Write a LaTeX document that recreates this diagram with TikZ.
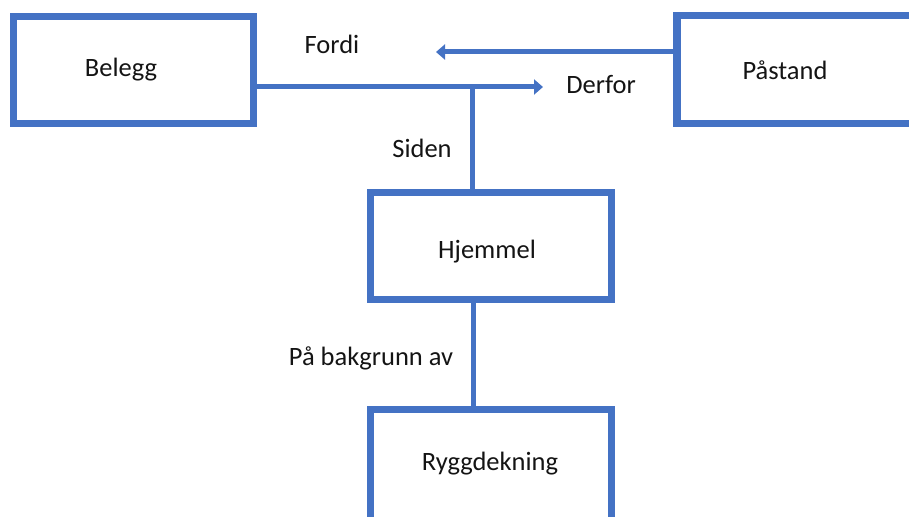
\documentclass[tikz,border=0pt]{standalone}
\usepackage{fontspec}
\setmainfont{Carlito}
\usetikzlibrary{arrows.meta}
\definecolor{officeblue}{HTML}{4472C4}
\tikzset{
  box/.style={draw=officeblue, line width=7.5pt, fill=none, outer sep=0pt, inner sep=0pt},
  lbl/.style={font=\fontsize{26.5}{30}\selectfont, text=black!92, inner sep=0pt},
  conn/.style={draw=officeblue, line width=5pt},
  arr/.style={conn, -{Triangle[length=9pt,width=15pt]}}
}
\begin{document}
\begin{tikzpicture}[x=1pt,y=-1pt]
\useasboundingbox (0,0) rectangle (909,516);
\clip (0,0) rectangle (909,516);
% boxes
\node[box, minimum width=240pt, minimum height=107pt] (belegg) at (133.5,70) {};
\node[box, minimum width=243pt, minimum height=108pt] (pastandbox) at (798.5,69.5) {};
\node[box, minimum width=241pt, minimum height=107pt] (hjemmel) at (491,246) {};
\node[box, minimum width=241pt, minimum height=120pt] (rygg) at (491,469.5) {};
% box labels
\node[lbl] (beleggtxt) at (121,70) {Belegg};
\node[lbl] (pastand) at (785,70) {Påstand};
\node[lbl] (hjemmeltxt) at (487,252) {Hjemmel};
\node[lbl] (ryggtxt) at (490,464) {Ryggdekning};
% connector labels
\node[lbl] (fordi) at (332,44) {Fordi};
\node[lbl] (derfor) at (601,85) {Derfor};
\node[lbl] (siden) at (422,148) {Siden};
\node[lbl] (bakgrunn) at (371,358) {På bakgrunn av};
% coordinates
\coordinate (dtip) at (543,87);
\coordinate (j) at (472,87);
\coordinate (ftip) at (436,52);
\coordinate (k) at (473,300);
% connectors
\draw[arr] (belegg.east |- dtip) -- (dtip);
\draw[conn] (j) -- (j |- hjemmel.north);
\draw[arr] (pastandbox.west |- ftip) -- (ftip);
\draw[conn] (k |- hjemmel.south) -- (k |- rygg.north);
\end{tikzpicture}
\end{document}
